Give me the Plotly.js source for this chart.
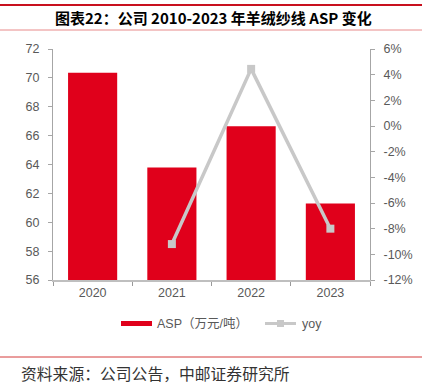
<!DOCTYPE html>
<html>
<head>
<meta charset="utf-8">
<script src="https://cdn.plot.ly/plotly-3.0.1.min.js"></script>
<style>html,body{margin:0;padding:0;background:#fff;}#chart{width:422px;height:384px;}</style>
</head>
<body>
<div id="chart"></div>
<script>
const years = ['2020', '2021', '2022', '2023'];
const asp = [70.35, 63.8, 66.65, 61.3];
const yoy = [null, -9.2, 4.45, -8.0];
const leftTicks = [56, 58, 60, 62, 64, 66, 68, 70, 72];
const rightTickVals = [-12, -10, -8, -6, -4, -2, 0, 2, 4, 6];
const rightTickText = ['-12%', '-10%', '-8%', '-6%', '-4%', '-2%', '0%', '2%', '4%', '6%'];
const titleText = '图表22：公司 2010-2023 年羊绒纱线 ASP 变化';
const sourceText = '资料来源：公司公告，中邮证券研究所';
const legendBar = 'ASP（万元/吨）';
const legendLine = 'yoy';

const FONT = 'Liberation Sans, Arial, Noto Sans CJK SC, sans-serif';
const TICKC = '#595959';
const RED = '#e0001b';
const GREY = '#c8c8c8';

const traces = [
  {type: 'bar', x: years, y: asp, width: 0.62, marker: {color: RED}, name: legendBar, yaxis: 'y', hoverinfo: 'none'},
  {type: 'scatter', mode: 'lines+markers', x: years, y: yoy, name: legendLine, yaxis: 'y2',
   line: {color: GREY, width: 3.5}, marker: {symbol: 'square', size: 8, color: GREY}, connectgaps: false, hoverinfo: 'none'}
];

const L = 53, T = 49, W = 317, H = 231;
function px(x) { return (x - L) / W; }
function py(y) { return (T + H - y) / H; }

const layout = {
  width: 422, height: 384,
  margin: {l: L, r: 422 - L - W, t: T, b: 384 - T - H},
  paper_bgcolor: '#fff', plot_bgcolor: '#fff',
  showlegend: false,
  font: {family: FONT, size: 12.5, color: TICKC},
  xaxis: {
    type: 'category', showgrid: false, zeroline: false,
    showline: true, linecolor: '#bfbfbf', linewidth: 1.5,
    ticks: 'outside', tickson: 'boundaries', ticklen: 4, tickcolor: '#999',
    tickfont: {family: FONT, size: 12.5, color: TICKC}
  },
  yaxis: {
    range: [56, 72], tickvals: leftTicks, showgrid: false, zeroline: false,
    showline: true, linecolor: '#a6a6a6', linewidth: 1,
    ticks: 'outside', ticklen: 4, tickcolor: '#a6a6a6', ticklabelstandoff: 6,
    tickfont: {family: FONT, size: 12.5, color: TICKC}
  },
  yaxis2: {
    overlaying: 'y', side: 'right', range: [-12, 6],
    tickvals: rightTickVals, ticktext: rightTickText,
    showgrid: false, zeroline: false,
    showline: true, linecolor: '#a6a6a6', linewidth: 1,
    ticks: 'outside', ticklen: 4, tickcolor: '#a6a6a6', ticklabelstandoff: 6,
    tickfont: {family: FONT, size: 12.5, color: TICKC}
  },
  shapes: [
    {type: 'line', xref: 'paper', yref: 'paper', x0: px(0), x1: px(422), y0: py(5), y1: py(5), line: {color: '#c8101e', width: 2}},
    {type: 'line', xref: 'paper', yref: 'paper', x0: px(0), x1: px(422), y0: py(30), y1: py(30), line: {color: '#e88a8a', width: 1}},
    {type: 'line', xref: 'paper', yref: 'paper', x0: px(0), x1: px(422), y0: py(357), y1: py(357), line: {color: '#d43a3a', width: 1}},
    {type: 'rect', xref: 'paper', yref: 'paper', x0: px(121), x1: px(152), y0: py(321), y1: py(326), fillcolor: RED, line: {width: 0}},
    {type: 'line', xref: 'paper', yref: 'paper', x0: px(265), x1: px(296), y0: py(323.5), y1: py(323.5), line: {color: GREY, width: 3}},
    {type: 'rect', xref: 'paper', yref: 'paper', x0: px(277), x1: px(284), y0: py(320), y1: py(327), fillcolor: GREY, line: {width: 0}}
  ],
  annotations: [
    {text: '<b>' + titleText + '</b>', xref: 'paper', yref: 'paper', x: px(214), y: py(17), xanchor: 'center', yanchor: 'middle',
     showarrow: false, font: {family: 'Noto Sans CJK SC, sans-serif', size: 15, color: '#000'}},
    {text: legendBar, xref: 'paper', yref: 'paper', x: px(155), y: py(323.5), xanchor: 'left', yanchor: 'middle',
     showarrow: false, font: {family: FONT, size: 12.5, color: TICKC}},
    {text: legendLine, xref: 'paper', yref: 'paper', x: px(300), y: py(323.5), xanchor: 'left', yanchor: 'middle',
     showarrow: false, font: {family: FONT, size: 12.5, color: TICKC}},
    {text: sourceText, xref: 'paper', yref: 'paper', x: px(19), y: py(373), xanchor: 'left', yanchor: 'middle',
     showarrow: false, font: {family: 'Noto Sans CJK SC, sans-serif', size: 15.8, color: '#333'}}
  ]
};

Plotly.newPlot('chart', traces, layout, {displayModeBar: false, staticPlot: true});
</script>
</body>
</html>
